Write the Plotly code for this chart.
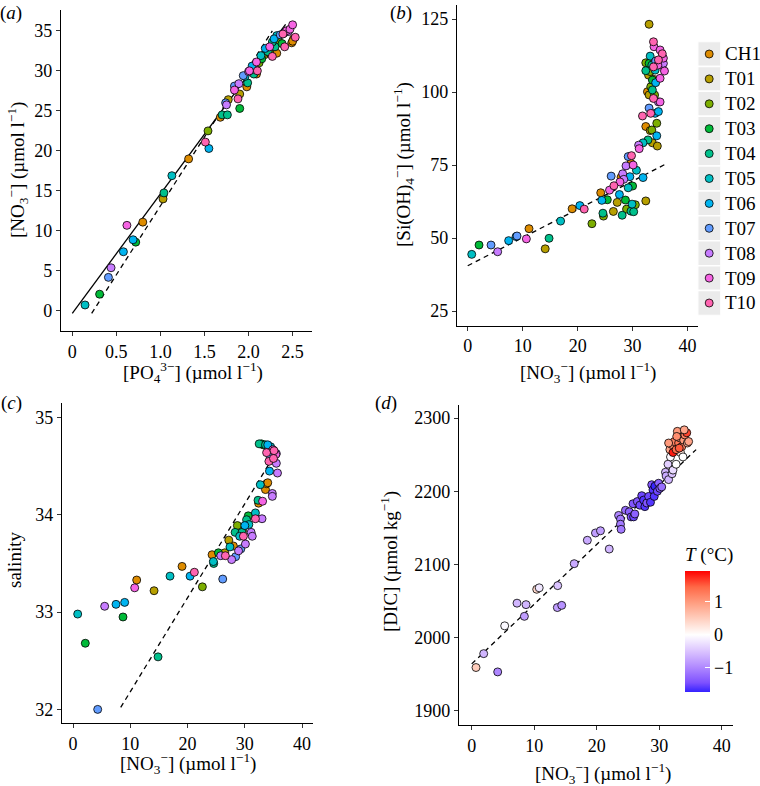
import plotly.graph_objects as go

W, H = 760, 786

stations = ["CH1", "T01", "T02", "T03", "T04", "T05", "T06", "T07", "T08", "T09", "T10"]
station_colors = ["#DE8C00", "#B79F00", "#7CAE00", "#00BA38", "#00C08B", "#00BFC4",
                  "#00B4F0", "#619CFF", "#C77CFF", "#F564E3", "#FF64B0"]

# (a) nitrate vs phosphate
a_stn = ["T05", "T03", "T07", "T08", "T06", "T06", "T03", "T09", "CH1", "T01",
         "T04", "T05", "CH1", "T10", "T06", "T02", "CH1", "T04", "T04", "T01",
         "T07", "T08", "T03", "T10", "T01", "T07", "T09", "T08", "CH1", "T04",
         "T07", "T05", "T09", "T04", "CH1", "T10", "T06", "T09", "T05", "T06",
         "T09", "T10", "CH1", "T02", "T04", "T04", "T06", "T05", "T07", "T06",
         "T02", "T10", "T09", "T09", "T09", "T08", "CH1", "CH1", "T10", "CH1",
         "T03", "T05", "T03", "T04", "T01", "T02", "T08", "T10"]
a_po4 = [0.145, 0.31, 0.41, 0.44, 0.58, 0.69, 0.72, 0.62, 0.80, 1.03,
         1.04, 1.13, 1.32, 1.51, 1.55, 1.54, 1.68, 1.70, 1.76, 1.77,
         1.74, 1.75, 1.90, 1.88, 1.90, 1.84, 1.84, 1.89, 1.98, 1.99,
         1.94, 1.96, 2.01, 2.06, 2.09, 2.10, 2.04, 2.09, 2.14, 2.19,
         2.24, 2.27, 2.32, 2.24, 2.22, 2.30, 2.29, 2.32, 2.36, 2.40,
         2.34, 2.41, 2.43, 2.47, 2.50, 2.45, 2.49, 2.51, 2.53, 2.50,
         2.38, 2.05, 2.15, 2.27, 2.18, 2.12, 2.00, 2.39]
a_no3 = [0.75, 2.1, 4.2, 5.4, 7.4, 8.9, 8.6, 10.7, 11.1, 14.0,
         14.75, 16.9, 19.0, 21.1, 20.3, 22.5, 24.2, 24.5, 24.5, 26.4,
         26.0, 25.75, 25.3, 26.5, 27.1, 28.1, 27.6, 28.4, 28.0, 28.5,
         29.4, 29.3, 30.0, 29.6, 29.6, 30.0, 30.6, 31.1, 31.9, 32.8,
         33.0, 31.8, 32.2, 32.2, 32.4, 33.0, 34.0, 34.4, 34.5, 34.7,
         33.7, 33.0, 35.0, 35.2, 35.75, 34.9, 33.5, 34.0, 34.2, 33.7,
         33.4, 30.2, 31.5, 33.6, 32.0, 31.0, 29.9, 34.6]
a_solid_po4 = [0.0, 2.42]
a_solid_no3 = [-0.3, 35.8]
a_dash_po4 = [0.22, 2.27]
a_dash_no3 = [-0.3, 35.0]

# (b) silicate vs nitrate
b_stn = ["T05", "T03", "T07", "T08", "T06", "T06", "T07", "T09", "CH1", "T01",
         "T04", "T05", "CH1", "T06", "T10", "T02", "CH1", "T06", "T04", "T02",
         "T03", "T07", "T09", "T01", "T10", "T01", "T06", "T09", "CH1", "T08",
         "T04", "T08", "T03", "T02", "T08", "T05", "T07", "T06", "CH1", "T10",
         "T05", "T04", "T04", "T09", "T03", "T02", "T05", "T08", "T09", "T06",
         "T10", "T05", "CH1", "T01", "T04", "T07", "T01", "T01", "T10", "T02",
         "T01", "T10", "T04", "T02", "T06", "T01", "T06", "T08", "T09", "T06",
         "CH1", "CH1", "T03", "T04", "T05", "T10", "T09", "T09", "T10", "T09",
         "T09", "T10", "T07", "T02", "T01", "T03", "T09", "T06", "T02", "T01",
         "T05", "T08", "T02", "T04", "T09", "T08", "T02", "T10"]
b_no3 = [0.73, 2.06, 4.24, 5.45, 7.45, 8.8, 8.97, 10.67, 11.15, 14.1,
         14.8, 16.9, 19.0, 20.4, 21.2, 22.6, 24.2, 24.4, 24.6, 24.7,
         25.4, 26.1, 25.8, 26.5, 26.6, 27.2, 27.6, 27.7, 27.9, 28.2,
         28.1, 28.4, 28.7, 28.9, 28.8, 29.2, 29.2, 29.5, 29.7, 29.8,
         29.9, 29.7, 30.2, 30.1, 30.0, 30.5, 30.7, 31.1, 31.2, 31.9,
         31.8, 31.9, 32.4, 32.4, 32.8, 33.0, 33.0, 33.2, 33.3, 33.5,
         33.6, 33.8, 33.6, 34.4, 34.1, 34.5, 34.4, 34.7, 35.0, 34.7,
         32.7, 33.9, 33.0, 32.4, 33.2, 33.8, 33.9, 35.0, 35.4, 35.6,
         35.8, 34.7, 34.2, 33.2, 32.9, 33.6, 35.0, 34.2, 33.3, 33.0,
         34.1, 35.2, 32.4, 33.5, 34.6, 35.6, 34.0, 33.8]
b_si = [44.4, 47.6, 47.6, 45.3, 49.1, 50.5, 50.7, 49.7, 53.2, 46.3,
        49.9, 55.8, 60.0, 61.1, 59.9, 54.9, 65.5, 62.9, 58.5, 57.5,
        63.1, 71.2, 66.4, 59.1, 67.9, 62.2, 64.9, 69.2, 70.8, 72.0,
        57.8, 70.1, 63.0, 59.9, 74.7, 67.2, 77.9, 71.0, 75.6, 78.2,
        61.6, 59.2, 59.0, 75.0, 67.8, 61.4, 73.2, 81.8, 80.6, 70.7,
        91.8, 82.6, 88.2, 62.7, 83.6, 94.5, 123.2, 86.8, 92.7, 87.0,
        82.6, 97.8, 100.7, 89.3, 92.7, 81.5, 85.0, 96.6, 96.6, 93.3,
        100.1, 104.3, 109.8, 107.3, 112.3, 117.2, 115.5, 114.4, 113.1, 111.6,
        107.2, 111.0, 110.6, 107.0, 105.8, 104.1, 104.7, 103.2, 101.8, 99.0,
        107.5, 109.2, 110.0, 109.2, 109.2, 109.8, 99.0, 108.6]
b_dash_no3 = [0.0, 36.0]
b_dash_si = [40.5, 75.3]

# (c) salinity vs nitrate
c_stn = ["T05", "T03", "T07", "T08", "T06", "T06", "T03", "T09", "CH1", "T01",
         "T04", "T05", "CH1", "T06", "T10", "T02", "CH1", "T05", "T04", "T03",
         "T08", "T07", "T01", "T10", "T01", "T05", "T08", "CH1", "T04", "T07",
         "T02", "T08", "T05", "T07", "T04", "CH1", "T10", "T08", "T06", "T04",
         "T03", "T05", "T08", "T08", "T05", "T10", "T04", "CH1", "T08", "T09",
         "T05", "CH1", "CH1", "CH1", "T06", "T08", "T08", "T08", "T08", "T10",
         "T04", "T03", "T04", "T10", "T06", "T05", "T09", "T10", "T09", "T07",
         "T10", "T08", "T02"]
c_no3 = [0.82, 2.15, 4.31, 5.53, 7.51, 9.02, 8.73, 10.77, 11.12, 14.15,
         14.85, 16.94, 19.04, 20.44, 21.19, 22.59, 24.28, 24.51, 24.57, 25.39,
         25.79, 26.14, 26.5, 26.6, 27.2, 27.4, 27.7, 28.0, 28.3, 28.4,
         28.7, 28.9, 29.1, 29.3, 29.5, 29.6, 29.75, 30.1, 30.0, 30.3,
         30.6, 30.7, 31.1, 31.3, 31.85, 31.85, 32.3, 32.4, 33.0, 33.1,
         32.7, 33.6, 33.8, 34.0, 34.3, 34.8, 34.8, 35.7, 35.5, 34.2,
         32.5, 32.9, 33.6, 33.8, 34.0, 34.5, 34.9, 35.1, 35.4, 34.4,
         35.0, 35.5, 33.2]
c_sal = [32.98, 32.68, 32.00, 33.06, 33.08, 33.10, 32.95, 33.25, 33.33, 33.22,
         32.54, 33.37, 33.47, 33.37, 33.41, 33.26, 33.59, 33.52, 33.50, 33.61,
         33.58, 33.34, 33.61, 33.58, 33.74, 33.67, 33.54, 33.68, 33.82, 33.57,
         33.89, 33.63, 33.78, 33.65, 33.82, 33.84, 33.78, 33.70, 33.89, 33.95,
         33.99, 33.90, 33.82, 33.78, 34.02, 33.96, 34.15, 34.12, 33.96, 34.14,
         34.31, 34.26, 34.32, 34.33, 34.45, 34.22, 34.19, 34.43, 34.53, 34.55,
         34.73, 34.73, 34.72, 34.64, 34.72, 34.70, 34.67, 34.66, 34.62, 34.60,
         34.58, 34.63, 34.72]
c_dash_no3 = [8.33, 34.5]
c_dash_sal = [32.02, 34.55]

# (d) DIC vs nitrate, coloured by temperature
d_no3 = [0.69, 1.92, 4.16, 5.28, 7.25, 8.69, 8.43, 10.4, 10.8, 13.76,
         13.7, 14.4, 16.4, 18.5, 19.8, 20.6, 22.0, 23.5, 23.8, 23.8,
         23.9, 24.6, 25.2, 25.5, 25.8, 25.9, 26.1, 26.5, 26.9, 27.2,
         27.5, 27.7, 28.0, 28.3, 28.6, 28.8, 29.0, 29.2, 29.3, 29.7,
         29.9, 30.1, 30.4, 31.0, 31.1, 31.5, 31.4, 32.05, 32.2, 31.8,
         32.7, 33.4, 33.8, 31.7, 32.0, 32.4, 32.2, 32.7, 32.9, 33.1,
         33.3, 33.6, 33.9, 34.1, 34.4, 34.5, 34.7, 34.0, 31.5, 32.8,
         33.2]
d_dic = [1959, 1978, 1953, 2016, 2047, 2045, 2029, 2066, 2068, 2071,
         2041, 2044, 2101, 2133, 2143, 2146, 2121, 2167, 2162, 2155,
         2148, 2174, 2172, 2165, 2183, 2165, 2169, 2186, 2181, 2194,
         2188, 2179, 2184, 2193, 2185, 2209, 2202, 2193, 2207, 2200,
         2211, 2204, 2206, 2226, 2221, 2216, 2237, 2224, 2229, 2247,
         2237, 2253, 2247, 2257, 2264, 2268, 2253, 2257, 2282, 2266,
         2273, 2261, 2270, 2277, 2280, 2266, 2268, 2284, 2266, 2275,
         2259]
d_temp = [0.5, -0.6, -1.0, -0.05, -0.6, -0.6, -0.8, 0.4, -0.2, -0.5,
          -0.8, -0.9, -0.7, -0.7, -0.8, -0.8, -0.6, -1.0, -1.1, -1.1,
          -1.1, -1.2, -1.3, -1.4, -1.4, -1.5, -1.3, -1.4, -1.5, -1.5,
          -1.6, -1.6, -1.4, -1.5, -1.6, -1.4, -1.6, -1.6, -1.7, -1.5,
          -1.3, -1.4, -1.2, -0.6, -0.7, -0.6, -0.4, -0.5, -0.3, -0.05,
          0.0, 0.2, 0.0, 0.9, 1.1, 1.2, 1.8, 1.4, 1.0, 1.3,
          1.1, 1.2, 1.0, 1.2, 1.6, 0.8, 0.9, 0.9, 1.0, 1.1,
          1.5]
d_dash_no3 = [0.0, 35.9]
d_dash_dic = [1964, 2257]

temp_ticks = [-1, 0, 1]
temp_ticktext = ["\u22121", "0", "1"]

FONT = "Liberation Serif"
TICK_SIZE = 18
TITLE_SIZE = 19
fig = go.Figure()


def px(x):
    return x / W


def py(y):
    return 1 - y / H


def add_stations(stn, xs, ys, xa, ya):
    for name, col in zip(stations, station_colors):
        idx = [i for i, s in enumerate(stn) if s == name]
        fig.add_trace(go.Scatter(
            x=[xs[i] for i in idx], y=[ys[i] for i in idx], mode="markers",
            xaxis=xa, yaxis=ya, name=name, showlegend=False,
            marker=dict(size=8, color=col, line=dict(color="black", width=0.8))))


def add_line(xs, ys, xa, ya, dash):
    fig.add_trace(go.Scatter(x=xs, y=ys, mode="lines", xaxis=xa, yaxis=ya,
                             showlegend=False, hoverinfo="skip",
                             line=dict(color="black", width=1.3, dash=dash)))


add_line(a_solid_po4, a_solid_no3, "x", "y", "solid")
add_line(a_dash_po4, a_dash_no3, "x", "y", "5px,4px")
add_stations(a_stn, a_po4, a_no3, "x", "y")

add_line(b_dash_no3, b_dash_si, "x2", "y2", "5px,4px")
add_stations(b_stn, b_no3, b_si, "x2", "y2")

add_line(c_dash_no3, c_dash_sal, "x3", "y3", "5px,4px")
add_stations(c_stn, c_no3, c_sal, "x3", "y3")

add_line(d_dash_no3, d_dash_dic, "x4", "y4", "5px,4px")
colorscale = [[0.0, "#3422FF"], [0.0769, "#7E51FF"], [0.2088, "#B28BFF"],
              [0.3407, "#DCC5FF"], [0.4725, "#FFFFFF"], [0.6044, "#FFCFBF"],
              [0.7363, "#FF9E81"], [0.8681, "#FF6846"], [1.0, "#FF0000"]]
fig.add_trace(go.Scatter(
    x=d_no3, y=d_dic, mode="markers", xaxis="x4", yaxis="y4", showlegend=False,
    marker=dict(size=8, color=d_temp, colorscale=colorscale, cmin=-1.72, cmax=1.92,
                line=dict(color="black", width=0.8),
                colorbar=dict(
                    x=px(685), xanchor="left", xpad=0, y=py(691.7), yanchor="bottom", ypad=0,
                    thickness=25, thicknessmode="pixels", len=148, lenmode="pixels",
                    outlinewidth=0, ticks="inside", ticklen=5, tickcolor="white",
                    tickvals=temp_ticks, ticktext=temp_ticktext,
                    tickfont=dict(family=FONT, size=TICK_SIZE, color="black"),
                    title=dict(text="<i>T</i> (°C)", side="top",
                               font=dict(family=FONT, size=TITLE_SIZE, color="black"))))))

# legend drawn on its own small axis
leg_idx = list(range(len(stations)))
fig.add_trace(go.Scatter(
    x=[0.5] * len(stations), y=leg_idx, mode="markers", xaxis="x5", yaxis="y5",
    showlegend=False, hoverinfo="skip",
    marker=dict(size=8, color=station_colors, line=dict(color="black", width=0.8))))

shapes = []
annotations = []
for i, name in enumerate(stations):
    shapes.append(dict(type="rect", xref="x5", yref="y5", x0=0, x1=1, y0=i - 0.5, y1=i + 0.5,
                       fillcolor="#EBEBEB", line=dict(color="white", width=1.5), layer="below"))
    annotations.append(dict(xref="x5", yref="y5", x=1, y=i, text=name, showarrow=False,
                            xanchor="left", xshift=2,
                            font=dict(family=FONT, size=TITLE_SIZE, color="black")))


def axis(domain, rng, tickvals, ticktext=None, anchor=None):
    d = dict(domain=domain, range=rng, tickvals=tickvals, showgrid=False, zeroline=False,
             showline=True, linecolor="black", linewidth=1.3, ticks="outside", ticklen=4,
             tickcolor="#333333", tickwidth=1, anchor=anchor,
             tickfont=dict(family=FONT, size=TICK_SIZE, color="black"))
    if ticktext is not None:
        d["ticktext"] = ticktext
    return d


def title(text, x, y, angle=0):
    return dict(xref="paper", yref="paper", x=px(x), y=py(y), text=text, showarrow=False,
                textangle=angle, xanchor="center", yanchor="middle",
                font=dict(family=FONT, size=TITLE_SIZE, color="black"))


no3_lab = "[NO<sub>3</sub><sup>\u2212</sup>] (µmol l<sup>\u22121</sup>)"
annotations += [
    title("[PO<sub>4</sub><sup>3\u2212</sup>] (µmol l<sup>\u22121</sup>)", 193, 372),
    title(no3_lab, 17, 170, -90),
    title(no3_lab, 588, 372),
    title("[Si(OH)<sub>4</sub><sup>\u2212</sup>] (µmol l<sup>\u22121</sup>)", 404, 165, -90),
    title(no3_lab, 188, 763),
    title("salinity", 14, 560, -90),
    title(no3_lab, 603, 773),
    title("[DIC] (µmol kg<sup>\u22121</sup>)", 389, 562, -90),
    title("(<i>a</i>)", 11, 13),
    title("(<i>b</i>)", 401, 13),
    title("(<i>c</i>)", 11, 403),
    title("(<i>d</i>)", 386, 403),
]

fig.update_layout(
    width=W, height=H, margin=dict(l=0, r=0, t=0, b=0),
    paper_bgcolor="white", plot_bgcolor="white",
    font=dict(family=FONT, size=TICK_SIZE, color="black"),
    xaxis=axis([px(61), px(312)], [-0.128, 2.72], [0, 0.5, 1, 1.5, 2, 2.5],
               ["0", "0.5", "1.0", "1.5", "2.0", "2.5"], "y"),
    yaxis=axis([py(331), py(10)], [-2.5, 37.6], [0, 5, 10, 15, 20, 25, 30, 35], anchor="x"),
    xaxis2=axis([px(457), px(698)], [-1.95, 41.9], [0, 10, 20, 30, 40], anchor="y2"),
    yaxis2=axis([py(325.7), py(5)], [19.97, 129.8], [25, 50, 75, 100, 125], anchor="x2"),
    xaxis3=axis([px(62), px(313)], [-1.92, 41.9], [0, 10, 20, 30, 40], anchor="y3"),
    yaxis3=axis([py(723), py(403)], [31.86, 35.15], [32, 33, 34, 35], anchor="x3"),
    xaxis4=axis([px(459), px(733)], [-2.03, 41.8], [0, 10, 20, 30, 40], anchor="y4"),
    yaxis4=axis([py(725), py(405)], [1880.4, 2318], [1900, 2000, 2100, 2200, 2300], anchor="x4"),
    xaxis5=dict(domain=[px(697.7), px(720.7)], range=[0, 1], visible=False, anchor="y5"),
    yaxis5=dict(domain=[py(315.45), py(41.55)], range=[10.5, -0.5], visible=False, anchor="x5"),
    shapes=shapes,
    annotations=annotations,
)

# drop the default 8px page margin so the figure sits at the window's corner
fig.write_html("out.html", config={"displayModeBar": False},
               post_script="document.body.style.margin='0';")
